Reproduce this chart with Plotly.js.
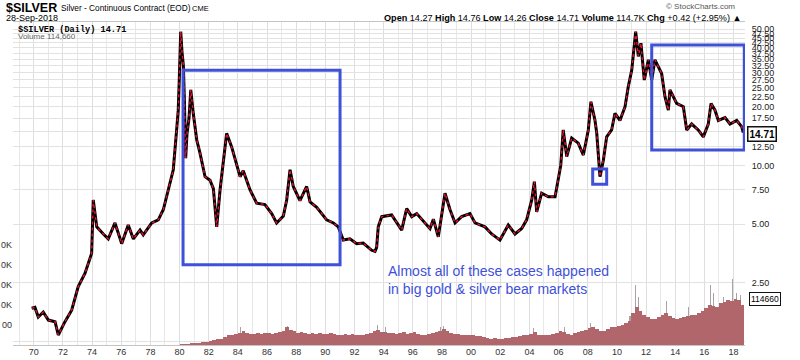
<!DOCTYPE html>
<html><head><meta charset="utf-8">
<script src="https://cdn.plot.ly/plotly-3.0.1.min.js"></script>
<style>html,body{margin:0;padding:0;background:#fff;}#chart{width:800px;height:360px;}</style>
</head><body><div id="chart"></div>
<script>
// ---- Price (close, $/oz) ----
const priceYears = [1969.86,1970.08,1970.31,1970.65,1971.00,1971.46,1971.68,1972.14,1972.60,1973.05,1973.51,1973.97,1974.08,1974.32,1974.77,1975.11,1975.57,1976.03,1976.48,1976.83,1977.29,1977.51,1978.09,1978.54,1978.89,1979.23,1979.57,1979.80,1979.91,1979.98,1980.05,1980.08,1980.17,1980.26,1980.33,1980.42,1980.51,1980.65,1980.77,1980.85,1980.94,1981.18,1981.40,1981.75,1982.09,1982.32,1982.55,1982.78,1983.00,1983.23,1983.58,1983.92,1984.15,1984.37,1984.83,1985.29,1985.86,1986.32,1986.66,1987.12,1987.35,1987.58,1987.80,1988.26,1988.72,1988.95,1989.41,1990.09,1990.55,1990.89,1991.23,1991.69,1992.15,1992.60,1993.18,1993.41,1993.52,1993.63,1993.87,1994.55,1995.24,1995.58,1995.93,1996.27,1996.84,1997.18,1997.41,1997.75,1998.21,1998.55,1998.90,1999.35,1999.92,2000.27,2000.95,2001.41,2001.98,2002.55,2003.01,2003.47,2003.81,2004.16,2004.34,2004.50,2004.84,2005.30,2005.76,2005.98,2006.15,2006.32,2006.56,2006.90,2007.35,2007.70,2008.04,2008.22,2008.50,2008.62,2008.84,2009.07,2009.30,2009.64,2009.87,2010.21,2010.56,2010.78,2011.02,2011.29,2011.47,2011.65,2011.88,2012.16,2012.39,2012.61,2013.07,2013.30,2013.53,2013.64,2014.10,2014.56,2014.79,2015.13,2015.58,2015.93,2016.27,2016.46,2016.73,2016.96,2017.42,2017.76,2018.22,2018.56,2018.67];
const priceClose = [1.85,1.87,1.67,1.77,1.61,1.58,1.35,1.58,1.81,2.39,2.79,3.54,6.65,4.84,4.45,4.20,5.07,3.97,4.95,4.20,4.66,4.40,5.07,5.26,5.94,7.50,9.50,15.2,19.2,27.4,40.0,48.5,38.0,32.7,22.0,10.9,14.5,17.5,24.4,21.0,18.5,13.5,11.6,8.75,8.40,7.60,4.84,7.50,10.2,14.6,12.4,10.2,8.75,9.40,7.50,6.40,6.30,5.66,5.07,5.50,6.65,9.50,7.80,6.60,7.80,6.50,6.10,5.26,5.07,4.84,4.14,4.20,3.97,4.00,3.67,3.62,3.80,4.84,5.46,5.57,4.66,6.00,5.46,5.66,5.07,4.74,5.30,4.30,7.20,5.94,5.07,5.46,5.66,5.07,4.84,4.45,4.14,4.95,4.45,4.75,5.26,6.65,8.25,5.77,7.20,6.90,6.90,8.40,10.0,15.2,11.1,13.8,13.0,11.3,15.2,21.2,17.0,14.6,8.75,10.6,14.0,15.2,18.5,17.0,20.0,25.3,30.8,48.5,36.2,42.3,27.4,34.8,27.4,34.8,29.6,22.5,19.2,24.4,20.8,20.0,15.2,16.3,15.2,14.0,16.3,20.8,19.2,17.0,17.6,16.3,17.0,15.8,14.71];

// ---- Volume (thousands of contracts), quarterly ----
const volYears = [1980,1981,1982,1983,1984,1985,1986,1987,1988,1989,1990,1991,1992,1993,1994,1995,1996,1997,1998,1999,2000,2001,2002,2003,2004,2005,2006,2007,2008,2009,2010,2011,2012,2013,2014,2015,2016,2017,2018];
const volK = [[2,3,3,4],[5,6,7,8],[10,12,14,16],[20,24,26,28],[30,34,30,28],[28,30,28,30],[30,28,30,32],[34,44,38,34],[30,32,30,28],[30,28,30,28],[28,30,28,26],[26,28,26,28],[26,24,26,28],[30,34,38,32],[32,30,30,28],[30,32,28,30],[32,28,26,26],[28,30,32,36],[40,34,30,28],[28,26,26,24],[24,22,22,20],[18,16,17,16],[16,18,18,20],[20,22,24,24],[28,32,26,26],[26,26,28,30],[34,32,28,26],[30,32,34,38],[42,44,40,36],[36,40,44,46],[48,50,54,60],[80,95,85,75],[70,66,64,70],[74,80,72,68],[66,68,70,72],[74,76,80,84],[92,100,98,96],[104,108,112,110],[116,112,100]];
// taller single-day volume spikes (thousands) seen above the bars
const spikeYears = [1984.2,1987.4,1993.6,1994.1,1997.9,1998.1,2004.3,2006.4,2008.2,2010.9,2011.3,2011.5,2013.4,2014.9,2016.4,2016.6,2017.3,2017.9,2018.2,2018.5];
const spikeK = [44,48,50,46,46,48,42,44,54,72,150,120,110,95,150,130,120,165,130,125];

// ---- Tick labels ----
const xTickYears = [1970,1972,1974,1976,1978,1980,1982,1984,1986,1988,1990,1992,1994,1996,1998,2000,2002,2004,2006,2008,2010,2012,2014,2016,2018];
const xTickLabels = ['70','72','74','76','78','80','82','84','86','88','90','92','94','96','98','00','02','04','06','08','10','12','14','16','18'];
const priceTicks = [1.25,2.5,5,7.5,10,12.5,15,17.5,20,22.5,25,27.5,30,32.5,35,37.5,40,42.5,45,47.5,50];
const priceTickLabels = ['','2.50','5.00','7.50','10.00','12.50','','17.50','20.00','22.50','25.00','27.50','30.00','32.50','35.00','37.50','40.00','42.50','45.00','47.50','50.00'];
const volTicks = [50000,100000,150000,200000,250000];
const volTickLabels = ['00','0K','0K','0K','0K'];

// build volume series
const volX = [], volY = [];
volYears.forEach((yr, i) => volK[i].forEach((v, q) => { volX.push(yr + (q + 0.5) / 4); volY.push(v * 1000); }));

// plot frame (pixels)
const L = 13, R = 745, T = 22, B = 345;
const px = x => (x - L) / (R - L), py = y => (B - y) / (B - T);
const FONT = 'Liberation Sans, Arial, sans-serif';
const BLUE = '#3f51d9';

const traces = [
  {type:'bar', x: spikeYears, y: spikeK.map(v => v * 1000), yaxis:'y2', width:0.07, marker:{color:'#a9a3a4', line:{width:0}}, hoverinfo:'skip'},
  {type:'bar', x: volX, y: volY, yaxis:'y2', width:0.25, marker:{color:'#b0666b', line:{width:0}}, hoverinfo:'skip'},
  {type:'scatter', mode:'lines', x: priceYears, y: priceClose, line:{color:'#000', width:3}, hoverinfo:'skip'},
  {type:'scatter', mode:'lines', x: priceYears, y: priceClose, line:{color:'#e3102f', width:1.4, dash:'dot'}, hoverinfo:'skip'}
];

const layout = {
  width:800, height:360, showlegend:false,
  margin:{l:L, r:800-R, t:T, b:360-B, pad:0},
  paper_bgcolor:'#fff', plot_bgcolor:'#fff',
  font:{family:FONT, size:9, color:'#222'},
  bargap:0, barmode:'overlay',
  xaxis:{type:'linear', range:[1968.575, 2018.789], tickmode:'array', tickvals:xTickYears, ticktext:xTickLabels,
    showgrid:true, gridcolor:'#dedede', gridwidth:1, zeroline:false,
    minor:{dtick:1, tick0:1969, showgrid:true, gridcolor:'#e8e8e8', ticks:''},
    showline:true, mirror:true, linecolor:'#c4c4c4', linewidth:1,
    ticks:'', ticklabelstandoff:-2, tickfont:{size:9, color:'#333'}},
  yaxis:{type:'log', side:'right', range:[0.07904, 1.73536], tickmode:'array', tickvals:priceTicks, ticktext:priceTickLabels,
    showgrid:true, gridcolor:'#e2e2e2', zeroline:false, showline:false,
    ticks:'outside', ticklen:4, tickcolor:'rgba(0,0,0,0)', tickfont:{size:9, color:'#222'}},
  yaxis2:{overlaying:'y', side:'left', range:[0, 807500], tickmode:'array', tickvals:volTicks, ticktext:volTickLabels,
    showgrid:false, zeroline:false, showline:false, ticks:'', tickfont:{size:9, color:'#333'}},
  shapes:[
    {type:'rect', xref:'x', yref:'y', x0:1980.24, x1:1991.01, y0:3.09, y1:30.8, line:{color:BLUE, width:3}},
    {type:'rect', xref:'x', yref:'y', x0:2008.34, x1:2009.30, y0:8.0, y1:9.58, line:{color:BLUE, width:3}},
    {type:'rect', xref:'x', yref:'y', x0:2012.39, x1:2018.74, y0:12.0, y1:41.4, line:{color:BLUE, width:3}}
  ],
  annotations:[
    {xref:'paper', yref:'paper', x:px(4), y:py(8), xanchor:'left', yanchor:'middle', showarrow:false,
      text:'<b>$SILVER</b>', font:{family:FONT, size:12.5, color:'#000'}},
    {xref:'paper', yref:'paper', x:px(59), y:py(8.5), xanchor:'left', yanchor:'middle', showarrow:false,
      text:'Silver - Continuous Contract (EOD)', font:{family:FONT, size:8.3, color:'#000'}},
    {xref:'paper', yref:'paper', x:px(190), y:py(9), xanchor:'left', yanchor:'middle', showarrow:false,
      text:'CME', font:{family:FONT, size:7.5, color:'#000'}},
    {xref:'paper', yref:'paper', x:px(4), y:py(17.5), xanchor:'left', yanchor:'middle', showarrow:false,
      text:'28-Sep-2018', font:{family:FONT, size:9, color:'#000'}},
    {xref:'paper', yref:'paper', x:px(737), y:py(6), xanchor:'right', yanchor:'middle', showarrow:false,
      text:'© StockCharts.com', font:{family:FONT, size:8, color:'#555'}},
    {xref:'paper', yref:'paper', x:px(743), y:py(17.5), xanchor:'right', yanchor:'middle', showarrow:false,
      text:'<b>Open</b> 14.27 <b>High</b> 14.76 <b>Low</b> 14.26 <b>Close</b> 14.71 <b>Volume</b> 114.7K <b>Chg</b> +0.42 (+2.95%) ▲', font:{family:FONT, size:9.1, color:'#000'}},
    {xref:'paper', yref:'paper', x:px(16), y:py(29.5), xanchor:'left', yanchor:'middle', showarrow:false,
      text:'<b>$SILVER (Daily) 14.71</b>', font:{family:'Liberation Mono, DejaVu Sans Mono, monospace', size:8.6, color:'#000'}},
    {xref:'paper', yref:'paper', x:px(16), y:py(36.5), xanchor:'left', yanchor:'middle', showarrow:false,
      text:'Volume 114,660', font:{family:FONT, size:8, color:'#666'}},
    {xref:'paper', yref:'paper', x:px(386), y:py(280), xanchor:'left', yanchor:'middle', align:'left', showarrow:false,
      text:'Almost all of these cases happened<br>in big gold &amp; silver bear markets', font:{family:FONT, size:14, color:BLUE}},
    {xref:'paper', yref:'paper', x:px(747), y:py(134), xanchor:'left', yanchor:'middle', showarrow:false,
      text:'<b>14.71</b>', font:{family:FONT, size:10, color:'#000'}, bgcolor:'#fff', bordercolor:'#111', borderwidth:1.5, borderpad:1},
    {xref:'paper', yref:'paper', x:px(749), y:py(299), xanchor:'left', yanchor:'middle', showarrow:false,
      text:'114660', font:{family:FONT, size:8.5, color:'#000'}, bgcolor:'#fff', bordercolor:'#111', borderwidth:1, borderpad:1}
  ]
};

Plotly.newPlot('chart', traces, layout, {displayModeBar:false, staticPlot:true});
</script></body></html>
